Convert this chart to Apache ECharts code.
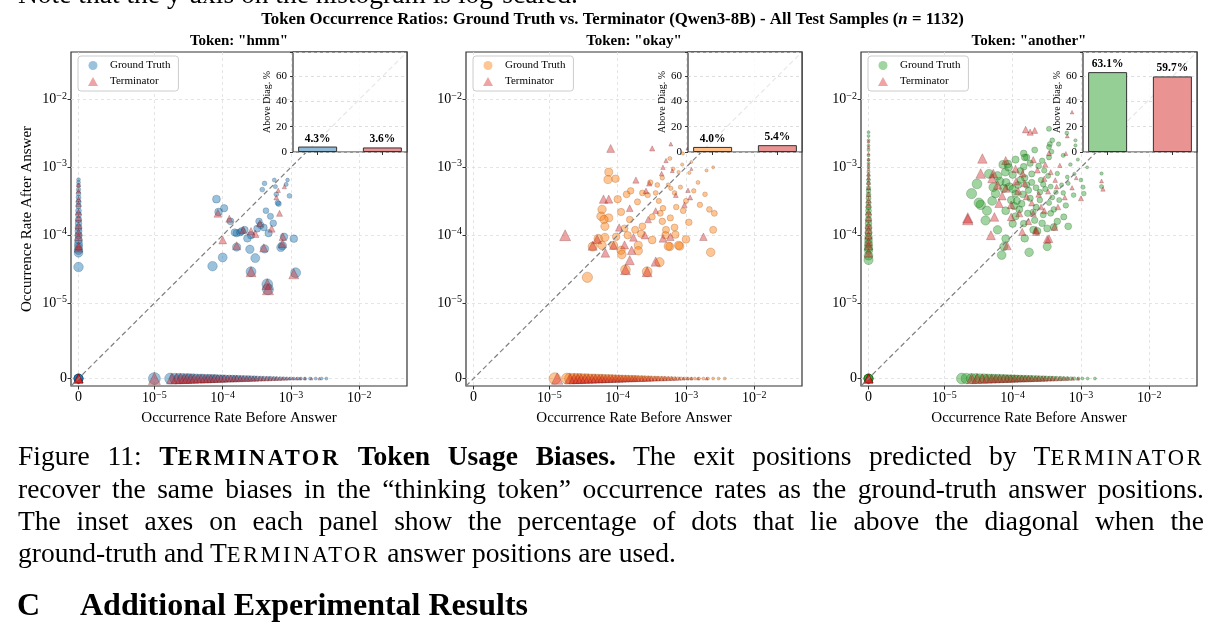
<!DOCTYPE html>
<html><head><meta charset="utf-8">
<script src="https://cdn.jsdelivr.net/npm/echarts@6/dist/echarts.min.js"></script>
<style>
html,body{margin:0;padding:0;background:#fff;width:1225px;height:640px;overflow:hidden;}
#chart{position:absolute;left:0;top:0;width:1225px;height:640px;}
.txt{position:absolute;left:18px;font-family:"Liberation Serif","Times New Roman",serif;font-size:27.5px;line-height:27.5px;white-space:nowrap;color:#000;}
.sc{font-size:0.82em;letter-spacing:2.5px;text-transform:uppercase;}
.hd{font-weight:bold;font-size:32px;line-height:32px;}
</style></head><body>
<div id="chart"></div>
<div class="txt" style="top:-20px">Note that the y-axis on the histogram is log-scaled.</div>
<div class="txt just" style="top:442px">Figure 11: <b>T<span class="sc">erminator</span> Token Usage Biases.</b> The exit positions predicted by T<span class="sc">erminator</span></div>
<div class="txt just" style="top:475px">recover the same biases in the “thinking token” occurrence rates as the ground-truth answer positions.</div>
<div class="txt just" style="top:507px">The inset axes on each panel show the percentage of dots that lie above the diagonal when the</div>
<div class="txt" style="top:539px">ground-truth and T<span class="sc">erminator</span> answer positions are used.</div>
<div class="txt hd" style="top:588px;left:17px">C</div>
<div class="txt hd" style="top:588px;left:80px">Additional Experimental Results</div>
<script>
// ---------------- data ----------------
const panelTitles = ['Token: "hmm"', 'Token: "okay"', 'Token: "another"'];
const tickValues = [0, 1e-5, 1e-4, 1e-3, 1e-2];
const tickLabels = ['0', '10^−5', '10^−4', '10^−3', '10^−2'];
const insetGT = [4.3, 4.0, 63.1];      // % above diagonal, ground truth
const insetTerm = [3.6, 5.4, 59.7];    // % above diagonal, Terminator

// "hmm": [before, after] pairs
const hmmGT = [[8.1e-5,3.4e-4],[1.05e-4,2.5e-4],[8.7e-5,2.2e-4],[1.3e-4,1.6e-4],[1.6e-4,1.07e-4],[2.1e-4,1.2e-4],[1.5e-4,1.1e-4],[2.6e-4,1.0e-4],[3.4e-4,1.6e-4],[3.6e-4,1.4e-4],[4.3e-4,2.3e-4],[5.0e-4,1.9e-4],[6.6e-4,2.9e-4],[9.5e-4,3.8e-4],[3.8e-4,4.7e-4],[4.1e-4,5.8e-4],[5.7e-4,6.5e-4],[5.9e-4,5.2e-4],[6.1e-4,4.0e-4],[8.5e-4,5.6e-4],[8.9e-4,6.5e-4],[7.9e-4,9.5e-5],[1.1e-3,8.9e-5],[4.0e-4,1.3e-4],[4.7e-4,1.07e-4],[1.8e-4,1.1e-4],[2.3e-4,9.0e-5],[1.9e-4,1.15e-4],[7.1e-5,3.5e-5],[1.0e-4,4.7e-5],[1.6e-4,6.7e-5],[2.5e-4,6.2e-5],[3.0e-4,4.6e-5],[4.1e-4,6.3e-5],[7.1e-4,6.6e-5],[2.6e-4,2.9e-5],[4.5e-4,1.9e-5],[4.6e-4,1.6e-5],[1.17e-3,2.8e-5],[7.5e-4,7.0e-5],[6.4e-4,3.0e-4],[3.2e-4,1.25e-4],[5.5e-4,1.5e-4]];
const hmmTerm = [[8.5e-5,2.1e-4],[1.25e-4,1.75e-4],[2.0e-4,1.2e-4],[2.6e-4,1.15e-4],[3.5e-4,1.5e-4],[6.8e-4,2.1e-4],[6.1e-4,3.6e-4],[6.5e-4,4.6e-4],[7.6e-4,9.5e-5],[1.0e-4,8.5e-5],[2.6e-4,2.9e-5],[4.5e-4,1.9e-5],[4.6e-4,1.6e-5],[1.1e-3,2.7e-5],[7.5e-4,7.5e-5],[1.6e-4,7.0e-5],[4.0e-4,6.5e-5],[3.0e-4,1.05e-4],[5.2e-4,1.25e-4],[8.0e-4,5.2e-4]];
const hmmGTAtX0 = [0,0,0,0,0,0,3.4e-5,5.5e-5,6.0e-5,6.8e-5,7.5e-5,8.5e-5,1.0e-4,1.15e-4,1.3e-4,1.5e-4,1.7e-4,2.0e-4,2.3e-4,2.7e-4,3.1e-4,3.6e-4,4.1e-4,4.7e-4,5.4e-4,6.0e-4,6.6e-4];
const hmmTermAtX0 = [0,0,0,0,0,0,6.5e-5,7.0e-5,9.5e-5,1.1e-4,1.4e-4,1.8e-4,2.2e-4,2.9e-4,3.4e-4,4.5e-4,5.5e-4];
const hmmGTAtY0 = [1.0e-5,1.7e-5,2.0e-5,2.3e-5,2.6e-5,3.0e-5,3.3e-5,3.7e-5,4.2e-5,4.8e-5,5.3e-5,6.0e-5,6.6e-5,7.3e-5,8.0e-5,9.0e-5,1.0e-4,1.1e-4,1.25e-4,1.4e-4,1.55e-4,1.7e-4,1.9e-4,2.1e-4,2.35e-4,2.6e-4,2.9e-4,3.2e-4,3.6e-4,4.0e-4,4.5e-4,5.0e-4,5.6e-4,6.2e-4,7.0e-4,7.8e-4,8.7e-4,9.7e-4,1.1e-3,1.25e-3,1.4e-3,1.6e-3,1.9e-3,2.3e-3,2.8e-3,3.3e-3];
const hmmTermAtY0 = [1.0e-5,1.8e-5,2.1e-5,2.4e-5,2.7e-5,3.0e-5,3.4e-5,3.8e-5,4.3e-5,4.8e-5,5.4e-5,6.0e-5,6.7e-5,7.5e-5,8.4e-5,9.4e-5,1.05e-4,1.18e-4,1.3e-4,1.45e-4,1.6e-4,1.8e-4,2.0e-4,2.25e-4,2.5e-4,2.8e-4,3.1e-4,3.5e-4,3.9e-4,4.4e-4,4.9e-4,5.5e-4,6.1e-4,6.8e-4,7.6e-4,8.5e-4,9.5e-4,1.06e-3,1.2e-3,1.35e-3,1.6e-3,2.0e-3,2.6e-3];

// "okay"
const okayGT = [[7.4e-5,8.5e-4],[9.3e-5,6.8e-4],[7.2e-5,6.6e-4],[1.0e-4,3.4e-4],[5.9e-5,2.4e-4],[5.7e-5,1.9e-4],[7.4e-5,1.8e-4],[6.3e-5,1.7e-4],[6.5e-5,1.35e-4],[5.2e-5,8.9e-5],[5.9e-5,7.1e-5],[4.3e-5,6.8e-5],[1.12e-4,2.2e-4],[1.35e-4,4.0e-4],[1.55e-4,4.5e-4],[1.95e-4,3.1e-4],[2.3e-4,4.2e-4],[2.75e-4,3.9e-4],[3.6e-4,4.2e-4],[4.0e-4,3.2e-4],[4.6e-4,2.5e-4],[5.5e-4,5.5e-4],[6.0e-4,4.9e-4],[6.8e-4,4.2e-4],[7.2e-4,2.6e-4],[9.1e-4,2.3e-4],[1.0e-3,3.2e-4],[8.3e-4,5.1e-4],[7.8e-4,8.5e-4],[1.12e-3,8.3e-4],[1.1e-3,1.55e-4],[6.8e-4,1.3e-4],[5.1e-4,1.2e-4],[3.2e-4,8.5e-5],[2.0e-4,7.1e-5],[1.12e-4,6.0e-5],[9.5e-5,9.5e-5],[1.26e-4,1.26e-4],[1.5e-4,1.7e-4],[1.8e-4,1.2e-4],[2.3e-4,1.35e-4],[3.2e-4,1.86e-4],[4.2e-4,2.1e-4],[4.5e-4,1.6e-4],[5.9e-4,1.8e-4],[8.1e-4,6.9e-5],[5.8e-4,6.8e-5],[3.6e-5,2.4e-5],[6.5e-5,9.3e-5],[8.7e-5,7.1e-5],[1.15e-4,5.2e-5],[1.3e-4,3.1e-5],[2.0e-4,5.9e-5],[2.7e-4,2.9e-5],[4.1e-4,4.0e-5],[5.5e-4,6.9e-5],[7.8e-4,7.1e-5],[1.0e-3,8.7e-5],[2.3e-3,5.6e-5],[1.4e-4,1.0e-4],[2.2e-4,1.05e-4],[5.0e-4,1.0e-4],[7.0e-4,1.02e-4],[2.5e-3,1.0e-3],[2.2e-3,2.4e-4],[2.6e-3,2.1e-4],[1.9e-3,4.0e-4],[2.0e-3,9.0e-4],[2.5e-3,1.2e-4],[1.5e-3,6.0e-4],[1.3e-3,4.5e-4],[1.6e-3,2.8e-4],[3.0e-4,6.0e-4],[4.5e-4,7.0e-4],[6.5e-4,9.5e-4],[8.8e-4,1.1e-3],[1.2e-3,1.2e-3],[3.8e-4,5.5e-4],[5.8e-4,1.35e-3],[9.0e-4,1.6e-3]];
const okayTerm = [[7.9e-5,1.9e-3],[3.2e-4,1.9e-3],[6.0e-4,2.2e-3],[1.05e-3,1.9e-3],[5.1e-4,1.26e-3],[6.2e-5,3.4e-4],[7.4e-5,3.4e-4],[1.7e-5,1.0e-4],[4.3e-5,7.0e-5],[5.0e-5,8.7e-5],[6.6e-5,5.5e-5],[1.5e-4,2.5e-4],[2.6e-4,4.5e-4],[2.9e-4,5.8e-4],[4.4e-4,8.1e-4],[6.3e-4,8.9e-4],[1.07e-3,4.6e-4],[9.5e-4,2.8e-4],[3.6e-4,2.3e-4],[2.8e-4,1.7e-4],[1.7e-4,9.3e-5],[1.05e-4,1.3e-4],[5.9e-4,9.5e-5],[1.15e-3,3.6e-4],[1.2e-3,9.5e-4],[1.85e-4,6.5e-4],[4.6e-4,1.0e-3],[7.1e-4,3.9e-4],[8.7e-5,7.1e-5],[1.26e-4,7.2e-5],[1.6e-4,6.0e-5],[1.5e-4,4.3e-5],[1.3e-4,3.1e-5],[2.7e-4,2.9e-5],[3.6e-4,4.1e-5],[1.8e-3,9.5e-5],[4.6e-4,9.0e-5],[2.5e-4,1.0e-4]];
const okayGTAtX0 = [];
const okayTermAtX0 = [];
const okayGTAtY0 = [1.2e-5,1.8e-5,2.0e-5,2.3e-5,2.6e-5,2.9e-5,3.3e-5,3.7e-5,4.2e-5,4.7e-5,5.3e-5,5.9e-5,6.6e-5,7.4e-5,8.3e-5,9.3e-5,1.04e-4,1.16e-4,1.3e-4,1.45e-4,1.62e-4,1.8e-4,2.0e-4,2.25e-4,2.5e-4,2.8e-4,3.1e-4,3.5e-4,3.9e-4,4.4e-4,4.9e-4,5.5e-4,6.1e-4,6.8e-4,7.6e-4,8.5e-4,9.5e-4,1.07e-3,1.2e-3,1.35e-3,1.55e-3,1.8e-3,2.1e-3,2.5e-3,3.0e-3,3.7e-3];
const okayTermAtY0 = [1.3e-5,2.0e-5,2.3e-5,2.6e-5,2.9e-5,3.3e-5,3.7e-5,4.2e-5,4.7e-5,5.3e-5,5.9e-5,6.6e-5,7.4e-5,8.3e-5,9.3e-5,1.04e-4,1.16e-4,1.3e-4,1.45e-4,1.62e-4,1.8e-4,2.0e-4,2.25e-4,2.5e-4,2.8e-4,3.1e-4,3.5e-4,3.9e-4,4.4e-4,4.9e-4,5.5e-4,6.2e-4,7.0e-4,8.0e-4,9.2e-4,1.05e-3,1.2e-3,1.5e-3,2.0e-3];

// "another"
const anotherGT = [[2.5e-5,4.1e-4],[3.0e-5,5.7e-4],[3.4e-5,2.8e-4],[4.0e-5,1.65e-4],[6.9e-5,5.1e-5],[7.4e-5,6.8e-5],[7.9e-5,8.9e-5],[1.74e-4,5.6e-5],[3.2e-4,6.8e-5],[7.2e-5,1.1e-3],[7.8e-5,8.5e-4],[8.5e-5,1.12e-3],[1.45e-4,1.6e-3],[1.6e-4,1.4e-3],[3.4e-4,2.0e-3],[3.5e-4,2.2e-3],[3.7e-4,1.7e-3],[8.3e-4,2.1e-3],[1.23e-3,1.0e-3],[1.07e-3,5.1e-4],[1.1e-3,4.1e-4],[1.9e-4,6.0e-4],[2.5e-4,4.3e-4],[3.4e-4,3.0e-4],[4.3e-4,4.3e-4],[6.0e-4,2.75e-4],[1.1e-4,4.1e-4],[1.35e-4,2.9e-4],[1.66e-4,2.1e-4],[2.1e-4,1.66e-4],[1.0e-4,1.48e-4],[7.9e-5,2.3e-4],[5.6e-5,4.1e-4],[5.2e-5,5.1e-4],[1.0e-4,7.8e-4],[1.45e-4,1.02e-3],[4.5e-4,8.1e-4],[6.3e-4,7.2e-4],[5.6e-4,1.86e-4],[4.0e-4,1.32e-4],[3.2e-4,1.26e-4],[2.0e-4,1.2e-4],[1.45e-4,1.48e-4],[5.0e-5,3.2e-4],[7.4e-5,4.9e-4],[8.7e-5,1.0e-3],[1.5e-4,1.4e-3],[2.1e-4,1.8e-3],[3.4e-4,1.4e-3],[3.8e-4,2.5e-3],[3.4e-4,3.7e-3],[4.7e-4,2.2e-3],[6.2e-4,3.2e-3],[8.3e-4,2.5e-3],[2.0e-3,8.1e-4],[2.0e-3,5.2e-4],[1.0e-3,6.5e-4],[7.8e-4,3.9e-4],[6.5e-4,1.35e-4],[4.5e-4,1.6e-4],[2.3e-4,1.15e-4],[3.2e-5,3.0e-4],[1.2e-4,5.5e-4],[1.5e-4,7.0e-4],[1.8e-4,3.5e-4],[2.2e-4,2.6e-4],[2.6e-4,6.5e-4],[2.9e-4,9.0e-4],[3.0e-4,4.8e-4],[1.25e-4,2.4e-4],[9.5e-5,3.3e-4],[2.8e-4,2.0e-4],[5.2e-4,5.5e-4],[7.0e-4,1.1e-3],[1.1e-4,1.9e-4],[1.7e-4,4.6e-4],[2.4e-4,1.05e-3],[3.8e-4,3.6e-4],[6.5e-5,6.2e-4],[1.3e-4,8.8e-4],[2.0e-4,2.2e-4],[9.0e-5,5.2e-4],[6.0e-5,7.5e-4],[8.0e-5,6.0e-4],[1.0e-4,4.8e-4],[1.15e-4,3.2e-4],[1.3e-4,6.5e-4],[1.6e-4,5.5e-4],[1.9e-4,8.0e-4],[2.2e-4,5.0e-4],[2.5e-4,3.3e-4],[2.8e-4,5.6e-4],[3.3e-4,7.5e-4],[3.6e-4,5.2e-4],[4.0e-4,2.4e-4],[4.8e-4,3.3e-4],[5.5e-4,4.2e-4],[6.5e-4,5.8e-4],[8.0e-4,8.0e-4],[9.0e-4,1.3e-3],[5.5e-4,1.5e-3],[2.7e-4,1.25e-3],[1.8e-4,1.15e-3],[1.1e-4,1.3e-3],[4.5e-5,8.0e-4],[4.2e-5,2.3e-4],[6.0e-5,1.2e-4],[1.5e-4,9.0e-5],[2.7e-4,1.5e-4],[3.6e-4,2.1e-4],[1.05e-4,2.7e-4],[1.4e-4,4.0e-4]];
const anotherTerm = [[3.6e-5,1.35e-3],[2.2e-5,1.8e-4],[4.8e-5,1.0e-4],[1.55e-4,3.6e-3],[2.1e-4,3.5e-3],[7.4e-4,6.5e-3],[6.3e-4,2.9e-3],[5.2e-5,8.1e-4],[1.8e-4,3.3e-3],[2.2e-5,1.7e-4],[3.4e-4,8.9e-5],[3.4e-5,8.1e-4],[5.0e-5,6.9e-4],[7.9e-5,1.26e-3],[7.9e-5,4.9e-4],[1.12e-4,6.2e-4],[1.6e-4,3.7e-4],[2.0e-4,2.1e-4],[2.6e-4,2.6e-4],[3.3e-4,4.4e-4],[4.2e-4,6.5e-4],[4.9e-4,1.07e-3],[2.3e-4,9.1e-4],[1.4e-4,8.1e-4],[6.3e-5,2.95e-4],[5.4e-5,1.86e-4],[9.5e-5,1.86e-4],[1.38e-4,1.12e-4],[7.4e-4,5.0e-4],[1.0e-3,3.5e-4],[2.0e-3,6.3e-4],[2.1e-3,4.8e-4],[3.4e-4,1.62e-3],[4.1e-4,1.32e-4],[2.2e-4,1.2e-4],[2.2e-4,1.12e-4],[3.2e-4,8.7e-5],[8.3e-5,7.0e-5],[7.0e-5,3.8e-4],[9.5e-5,2.8e-4],[1.2e-4,4.5e-4],[1.5e-4,5.8e-4],[1.9e-4,3.0e-4],[2.4e-4,4.0e-4],[2.9e-4,6.8e-4],[3.6e-4,8.5e-4],[4.4e-4,5.2e-4],[5.8e-4,3.6e-4],[1.1e-4,9.5e-4],[2.0e-4,1.3e-3],[2.9e-4,2.3e-4],[1.7e-4,1.6e-4],[1.25e-4,2.1e-4],[6.0e-4,1.6e-3],[8.5e-4,7.0e-4],[4.6e-4,2.6e-4],[3.0e-4,1.1e-3],[6.0e-5,5.5e-4]];
const anotherGTAtX0 = [0,0,0,0,0,0,4.3e-5,5.0e-5,6.0e-5,6.5e-5,7.5e-5,8.5e-5,9.5e-5,1.1e-4,1.3e-4,1.5e-4,1.7e-4,2.0e-4,2.3e-4,2.6e-4,3.0e-4,3.5e-4,4.0e-4,4.5e-4,5.0e-4,5.8e-4,6.5e-4,7.5e-4,8.5e-4,1.0e-3,1.15e-3,1.3e-3,1.5e-3,1.8e-3,2.1e-3,2.5e-3,2.9e-3,3.3e-3];
const anotherTermAtX0 = [0,0,0,0,0,0,5.5e-5,7.0e-5,8.0e-5,1.0e-4,1.2e-4,1.4e-4,1.8e-4,2.2e-4,2.8e-4,3.3e-4,4.0e-4,5.0e-4,6.0e-4,7.0e-4,8.0e-4,9.5e-4,1.1e-3,1.3e-3,1.6e-3,2.0e-3,2.4e-3];
const anotherGTAtY0 = [1.8e-5,2.1e-5,2.5e-5,2.9e-5,3.3e-5,3.8e-5,4.3e-5,4.9e-5,5.5e-5,6.2e-5,7.0e-5,7.8e-5,8.7e-5,9.6e-5,1.06e-4,1.17e-4,1.3e-4,1.45e-4,1.6e-4,1.8e-4,2.0e-4,2.25e-4,2.5e-4,2.8e-4,3.1e-4,3.5e-4,3.9e-4,4.4e-4,5.0e-4,5.6e-4,6.3e-4,7.1e-4,8.0e-4,9.2e-4,1.05e-3,1.25e-3,1.6e-3];
const anotherTermAtY0 = [2.5e-5,3.0e-5,3.6e-5,4.2e-5,4.9e-5,5.6e-5,6.4e-5,7.3e-5,8.3e-5,9.4e-5,1.06e-4,1.2e-4,1.35e-4,1.52e-4,1.7e-4,1.9e-4,2.15e-4,2.4e-4,2.7e-4,3.0e-4,3.4e-4,3.8e-4,4.3e-4,4.9e-4,5.6e-4,6.4e-4,7.5e-4,9.0e-4];

// ---------------- layout / style ----------------
const SERIF = '"Liberation Serif","Times New Roman",serif';
const gtColors = ['#1f77b4', '#ff7f0e', '#2ca02c'];
const gtEdge = ['#0b2f4f', '#7a3300', '#0e400e'];
const gtLight = ['#8fbbd9', '#ffbf86', '#95cf95'];
const termColor = '#d62728', termEdge = '#4a0707', termLight = '#ea9393';
const gridLefts = [71, 466, 861];
const GRID_TOP = 52, GRID_W = 336, GRID_H = 334;
const INSET_W = 114, INSET_H = 100;
const TRI = 'path://M5,0 L10,9 L0,9 Z';

// symlog transform (linthresh 1e-5, linscale 1)
const LIN = 1e-5, LS = 1 / 0.9;
function T(v) { if (v <= 0) return 0; if (v < LIN) return v / LIN * LS; return LS + Math.log10(v / LIN); }
const AX_MIN = -0.11, AX_MAX = 4.81;

const panels = [
  { gt: hmmGT, term: hmmTerm, gx0: hmmGTAtX0, tx0: hmmTermAtX0, gy0: hmmGTAtY0, ty0: hmmTermAtY0 },
  { gt: okayGT, term: okayTerm, gx0: okayGTAtX0, tx0: okayTermAtX0, gy0: okayGTAtY0, ty0: okayTermAtY0 },
  { gt: anotherGT, term: anotherTerm, gx0: anotherGTAtX0, tx0: anotherTermAtX0, gy0: anotherGTAtY0, ty0: anotherTermAtY0 }
];

function pts(pairs, atX0, atY0) {
  const all = pairs.concat(atX0.map(y => [0, y]), atY0.map(x => [x, 0]));
  return all.map(p => [T(p[0]), T(p[1]), p[0], p[1]]);
}
function sz(val) {
  const nz = [val[2], val[3]].filter(v => v > 0);
  if (!nz.length) return 9;
  const r = Math.min.apply(null, nz);
  return Math.max(3, Math.min(13, 12 - 4.5 * Math.log10(r / 1e-5)));
}
function tickFmt(v) {
  for (let i = 0; i < tickValues.length; i++) {
    if (Math.abs(T(tickValues[i]) - v) < 1e-6) {
      const m = tickLabels[i].split('^');
      return m.length > 1 ? '{b|' + m[0] + '}{s|' + m[1] + '}' : '{b|' + m[0] + '}';
    }
  }
  return '';
}
const richTicks = {
  b: { fontSize: 14, fontFamily: SERIF, color: '#000' },
  s: { fontSize: 10, fontFamily: SERIF, color: '#000', padding: [0, 0, 7, 0] }
};
const gtName = i => 'Ground Truth' + '\u200b'.repeat(i);
const termName = i => 'Terminator' + '\u200b'.repeat(i);

const mainGrid = [], insetGrid = [], mainX = [], insetX = [], mainY = [], insetY = [];
const series = [], legend = [], title = [], graphic = [];

title.push({
  text: '{b|Token Occurrence Ratios: Ground Truth vs. Terminator (Qwen3-8B) - All Test Samples (}{i|n}{b| = 1132)}',
  left: 'center', top: 11, padding: 0,
  textStyle: { rich: {
    b: { fontSize: 16.8, fontWeight: 'bold', fontFamily: SERIF, color: '#000' },
    i: { fontSize: 16.8, fontStyle: 'italic', fontFamily: SERIF, color: '#000' } } }
});

panels.forEach((p, i) => {
  const L = gridLefts[i];
  mainGrid.push({ left: L, top: GRID_TOP, width: GRID_W, height: GRID_H, show: true, borderColor: '#333', borderWidth: 1.2, backgroundColor: 'transparent' });
  const common = {
    type: 'value', min: AX_MIN, max: AX_MAX, gridIndex: i,
    axisLine: { show: false, onZero: false },
    axisTick: { show: true, customValues: tickValues.map(T), length: 3.5, lineStyle: { color: '#333', width: 1 } },
    axisLabel: { customValues: tickValues.map(T), formatter: tickFmt, rich: richTicks, margin: 4 },
    splitLine: { show: true, lineStyle: { color: '#dedede', type: [3, 3], width: 0.8 } }
  };
  mainX.push(Object.assign({}, common, {
    name: 'Occurrence Rate Before Answer', nameLocation: 'middle', nameGap: 21,
    nameTextStyle: { fontSize: 15, fontFamily: SERIF, color: '#000' }
  }));
  mainY.push(Object.assign({}, common, i === 0 ? {
    name: 'Occurrence Rate After Answer', nameLocation: 'middle', nameGap: 36,
    nameTextStyle: { fontSize: 15, fontFamily: SERIF, color: '#000' }
  } : {}));
  title.push({
    text: panelTitles[i], left: L + GRID_W / 2, textAlign: 'center', top: 34, padding: 0,
    textStyle: { fontSize: 15, fontWeight: 'bold', fontFamily: SERIF, color: '#000' }
  });
  series.push({
    type: 'scatter', name: gtName(i), xAxisIndex: i, yAxisIndex: i, z: 2,
    data: pts(p.gt, p.gx0, p.gy0), symbol: 'circle', symbolSize: sz,
    itemStyle: { color: gtColors[i], opacity: 0.45, borderColor: gtEdge[i], borderWidth: 0.5 },
    emphasis: { disabled: true }, silent: true
  });
  series.push({
    type: 'scatter', name: termName(i), xAxisIndex: i, yAxisIndex: i, z: 2,
    data: pts(p.term, p.tx0, p.ty0), symbol: 'triangle', symbolSize: sz,
    itemStyle: { color: termColor, opacity: 0.42, borderColor: termEdge, borderWidth: 0.5 },
    emphasis: { disabled: true }, silent: true
  });
  series.push({
    type: 'line', xAxisIndex: i, yAxisIndex: i, z: 3, silent: true, symbol: 'none',
    data: [[AX_MIN, AX_MIN], [AX_MAX, AX_MAX]],
    lineStyle: { color: '#7f7f7f', type: [5, 3], width: 1.2 }
  });
  legend.push({
    left: L + 7, top: 56, orient: 'vertical', itemGap: 5, itemWidth: 24, itemHeight: 9,
    padding: [4, 8, 4, 10], backgroundColor: 'rgba(255,255,255,0.85)', borderColor: '#cccccc', borderWidth: 1, borderRadius: 3,
    symbolKeepAspect: true,
    itemStyle: { borderWidth: 0 },
    data: [{ name: gtName(i), icon: 'circle' }, { name: termName(i), icon: TRI }],
    formatter: n => n.replace(/\u200b/g, ''),
    textStyle: { fontSize: 11, fontFamily: SERIF, color: '#000' },
    selectedMode: false
  });
  // inset
  const IL = L + GRID_W - INSET_W;
  graphic.push({ type: 'rect', z: 4, silent: true,
    shape: { x: IL, y: GRID_TOP, width: INSET_W, height: INSET_H },
    style: { fill: 'rgba(255,255,255,0.82)', stroke: '#333', lineWidth: 1.2 } });
  insetGrid.push({ left: IL, top: GRID_TOP, width: INSET_W, height: INSET_H });
  insetX.push({ type: 'value', gridIndex: 3 + i, min: -0.38, max: 1.38, z: 5,
    axisLine: { show: false, onZero: false }, axisLabel: { show: false }, splitLine: { show: false },
    axisTick: { show: true, customValues: [0, 1], length: 3, lineStyle: { color: '#333' } } });
  insetY.push({ type: 'value', gridIndex: 3 + i, min: 0, max: 79, interval: 20, z: 5,
    axisLine: { show: false, onZero: false },
    axisTick: { show: true, length: 3, lineStyle: { color: '#333' } },
    axisLabel: { fontSize: 11, fontFamily: SERIF, color: '#000', margin: 6,
      formatter: v => (v % 20 === 0 ? String(v) : '') },
    splitLine: { show: true, lineStyle: { color: '#d6d6d6', type: [3, 3], width: 0.8 } },
    name: 'Above Diag. %', nameLocation: 'middle', nameGap: 21, nameRotate: 90,
    nameTextStyle: { fontSize: 10, fontFamily: SERIF, color: '#000' } });
  series.push({
    type: 'bar', xAxisIndex: 3 + i, yAxisIndex: 3 + i, z: 6, barWidth: 39, silent: true,
    data: [
      { value: [0, insetGT[i]], itemStyle: { color: gtLight[i] } },
      { value: [1, insetTerm[i]], itemStyle: { color: termLight } }
    ],
    itemStyle: { borderColor: '#333', borderWidth: 1 },
    label: { show: true, position: 'top', distance: 2, formatter: q => q.value[1].toFixed(1) + '%',
      fontSize: 11.5, fontWeight: 'bold', fontFamily: SERIF, color: '#000' }
  });
});

const chart = echarts.init(document.getElementById('chart'), null, { renderer: 'canvas' });
chart.setOption({
  animation: false, backgroundColor: 'transparent', title,
  grid: mainGrid.concat(insetGrid), xAxis: mainX.concat(insetX), yAxis: mainY.concat(insetY),
  series, legend, graphic
});

// justify caption lines
function justify() {
  const TARGET = 1186;
  document.querySelectorAll('.just').forEach(el => {
    el.style.wordSpacing = '0px';
    const w = el.getBoundingClientRect().width;
    const n = (el.textContent.match(/ /g) || []).length;
    if (n) el.style.wordSpacing = ((TARGET - w) / n) + 'px';
  });
}
justify();
if (document.fonts && document.fonts.ready) document.fonts.ready.then(justify);
</script>
</body></html>
